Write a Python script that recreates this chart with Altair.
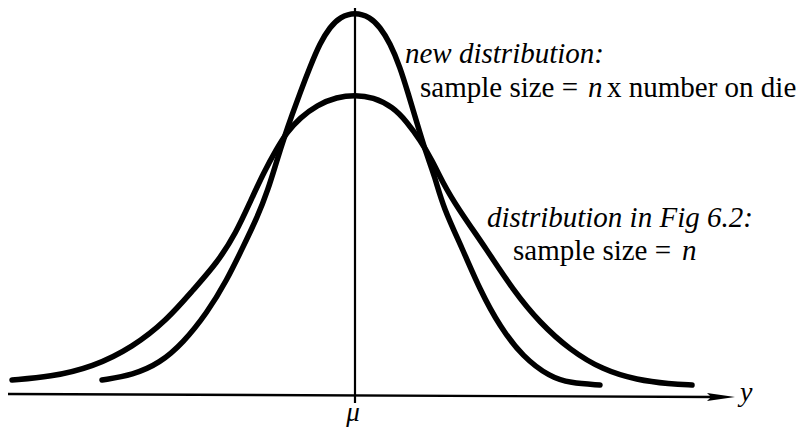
import altair as alt
import pandas as pd

# Curves: x = offset from mu, y = height above the axis
new_x = [-2.53, -2.22, -1.95, -1.72, -1.48, -1.28, -1.12, -0.98, -0.87, -0.78, -0.70, -0.63, -0.55,
         -0.45, -0.35, -0.25, -0.15, 0.0, 0.15, 0.25, 0.35, 0.45, 0.53, 0.62, 0.70, 0.80, 0.88,
         1.08, 1.25, 1.45, 1.68, 1.95, 2.15, 2.45]
new_y = [0.15, 0.20, 0.32, 0.52, 0.82, 1.15, 1.48, 1.77, 2.05, 2.35, 2.60, 2.80, 3.02,
         3.28, 3.52, 3.68, 3.78, 3.83, 3.78, 3.68, 3.52, 3.28, 3.02, 2.72, 2.45, 2.18, 1.88,
         1.45, 1.05, 0.68, 0.38, 0.18, 0.12, 0.10]

old_x = [-3.43, -3.05, -2.62, -2.22, -1.88, -1.62, -1.38, -1.19, -1.04, -0.91, -0.79, -0.68, -0.55,
         -0.38, -0.18, 0.0, 0.18, 0.38, 0.52, 0.65, 0.77, 0.88, 1.02, 1.32, 1.58, 1.85, 2.15,
         2.48, 2.82, 3.15, 3.37]
old_y = [0.15, 0.18, 0.28, 0.48, 0.75, 1.05, 1.32, 1.62, 1.95, 2.23, 2.45, 2.63, 2.77,
         2.90, 2.98, 3.00, 2.98, 2.88, 2.73, 2.55, 2.35, 2.12, 1.88, 1.45, 1.05, 0.72, 0.45,
         0.25, 0.15, 0.11, 0.10]

# axis line (with slight scan tilt) and mean line
axis_x = [-3.47, 3.60]
axis_y = [0.01, -0.02]
arrow_x = [3.66]
arrow_y = [-0.02]
mu_x = [0.0, 0.0]
mu_y = [-0.08, 3.87]

italic_texts = ["new distribution:", "n", "distribution in Fig 6.2:", "n"]
italic_x = [0.50, 2.33, 1.32, 3.27]
italic_y = [3.32, 2.98, 1.68, 1.35]

roman_texts = ["sample size = ", "x number on die", "sample size = "]
roman_x = [0.65, 2.52, 1.58]
roman_y = [2.98, 2.98, 1.35]

axis_labels = ["μ", "y"]
axis_label_x = [-0.02, 3.85]
axis_label_y = [-0.26, -0.06]

curves = pd.concat([
    pd.DataFrame({"x": new_x, "y": new_y, "series": "new"}),
    pd.DataFrame({"x": old_x, "y": old_y, "series": "fig62"}),
])

FONT = "Liberation Serif"
xs = alt.Scale(domain=[-3.47, 4.44], nice=False, zero=False)
ys = alt.Scale(domain=[-0.35, 3.87], nice=False, zero=False)
X = lambda f: alt.X(f, type="quantitative", scale=xs, axis=None)
Y = lambda f: alt.Y(f, type="quantitative", scale=ys, axis=None)

lines = alt.Chart(curves).mark_line(
    color="black", strokeWidth=5.5, interpolate="basis", strokeCap="round"
).encode(x=X("x"), y=Y("y"), detail="series:N", order="x:Q")

axis_df = pd.DataFrame({"x": [axis_x[0]], "x2": [axis_x[1]], "y": [axis_y[0]], "y2": [axis_y[1]]})
axis_rule = alt.Chart(axis_df).mark_rule(color="black", strokeWidth=2.4).encode(
    x=X("x"), x2="x2", y=Y("y"), y2="y2")

arrow = alt.Chart(pd.DataFrame({"x": arrow_x, "y": arrow_y})).mark_point(
    shape="M-1,-0.28L1,0L-1,0.28L-0.7,0Z", size=784, filled=True, color="black", opacity=1, strokeWidth=0
).encode(x=X("x"), y=Y("y"))

mu_df = pd.DataFrame({"x": [mu_x[0]], "y": [mu_y[0]], "y2": [mu_y[1]]})
mu_rule = alt.Chart(mu_df).mark_rule(color="black", strokeWidth=2.2).encode(
    x=X("x"), y=Y("y"), y2="y2")

it_df = pd.DataFrame({"x": italic_x, "y": italic_y, "t": italic_texts})
it_text = alt.Chart(it_df).mark_text(
    font=FONT, fontStyle="italic", fontSize=29, align="left", baseline="alphabetic", color="black"
).encode(x=X("x"), y=Y("y"), text="t:N")

ro_df = pd.DataFrame({"x": roman_x, "y": roman_y, "t": roman_texts})
ro_text = alt.Chart(ro_df).mark_text(
    font=FONT, fontSize=29, align="left", baseline="alphabetic", color="black"
).encode(x=X("x"), y=Y("y"), text="t:N")

mu_lab = alt.Chart(pd.DataFrame({"x": [axis_label_x[0]], "y": [axis_label_y[0]], "t": [axis_labels[0]]})).mark_text(
    font=FONT, fontStyle="italic", fontSize=27, align="center", baseline="alphabetic", color="black"
).encode(x=X("x"), y=Y("y"), text="t:N")
y_lab = alt.Chart(pd.DataFrame({"x": [axis_label_x[1]], "y": [axis_label_y[1]], "t": [axis_labels[1]]})).mark_text(
    font=FONT, fontStyle="italic", fontSize=28, align="left", baseline="alphabetic", color="black"
).encode(x=X("x"), y=Y("y"), text="t:N")

chart = alt.layer(axis_rule, mu_rule, lines, arrow, it_text, ro_text, mu_lab, y_lab).properties(
    width=791, height=422, padding=0, autosize=alt.AutoSizeParams(type="none"), background="white"
).configure_view(stroke=None)

chart.save("out.html", embed_options={"renderer": "svg", "actions": False})
